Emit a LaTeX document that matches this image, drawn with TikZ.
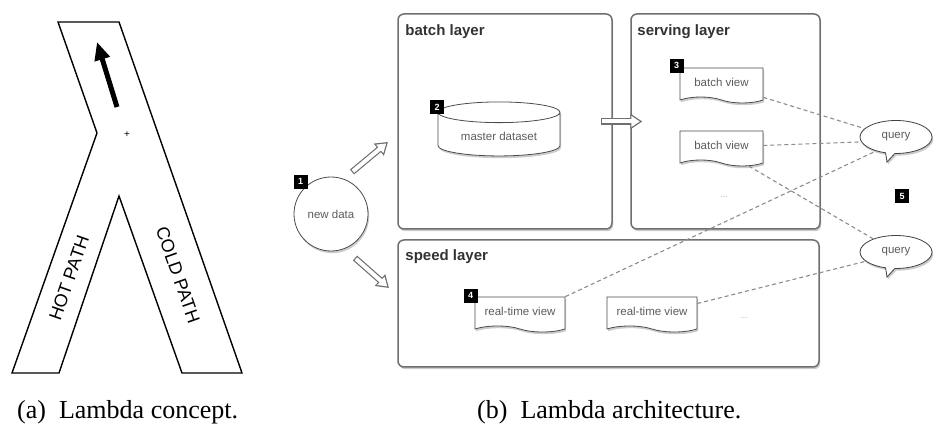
\documentclass[tikz,border=0pt]{standalone}
\usepackage{fontspec}
\setmainfont{Liberation Serif}
\setsansfont{Liberation Sans}
\usepackage{tikz}
\usepackage{xcolor}
\usetikzlibrary{positioning}
\usetikzlibrary{arrows.meta}
\usetikzlibrary{shadows}
\usetikzlibrary{shapes.geometric}
\usetikzlibrary{shapes.symbols}
\usetikzlibrary{shapes.callouts}
\definecolor{rim}{HTML}{6F6F6F}
\definecolor{ink}{HTML}{5C5C5C}
\tikzstyle{lift}=[drop shadow={shadow xshift=1.2pt, shadow yshift=-2.2pt, opacity=0.4}]
\tikzstyle{layer}=[draw=rim, line width=1.5pt, rounded corners=6pt, fill=white, lift]
\tikzstyle{title}=[anchor=west, inner sep=0pt, text=black!80, font=\sffamily\bfseries\fontsize{15}{18}\selectfont]
\tikzstyle{small}=[text=ink, font=\sffamily\fontsize{11.5}{14}\selectfont]
\tikzstyle{docview}=[small, tape, tape bend top=none, tape bend bottom=out and in, tape bend height=6pt, draw=black!70, line width=0.8pt, fill=white, minimum height=35pt, inner sep=0pt, lift]
\tikzstyle{dataset}=[small, cylinder, shape border rotate=90, aspect=0.25, draw=black!70, line width=0.8pt, fill=white, minimum width=122pt, minimum height=54pt, lift]
\tikzstyle{query}=[small, ellipse callout, draw=black!75, line width=0.8pt, fill=white, minimum width=72pt, minimum height=33pt, inner sep=0pt, lift]
\tikzstyle{badge}=[fill=black, text=white, minimum size=14pt, inner sep=0pt, font=\sffamily\bfseries\fontsize{9}{10}\selectfont]
\tikzstyle{etc}=[text=black!35, font=\sffamily\fontsize{8}{9}\selectfont]
\tikzstyle{link}=[draw=black!45, dash pattern=on 4pt off 3pt, line width=1.1pt]
\tikzstyle{hollowrim}=[draw=rim, line width=6.4pt, -{Triangle[length=12pt,width=15pt]}]
\tikzstyle{hollowcore}=[draw=white, line width=4pt, -{Triangle[length=8.5pt,width=10.5pt]}, shorten <=1.2pt, shorten >=2.3pt]
\tikzstyle{pathtext}=[font=\sffamily\fontsize{18}{20}\selectfont]
\tikzstyle{caption}=[anchor=base west, inner sep=0pt, font=\fontsize{26}{28}\selectfont]

\begin{document}
\begin{tikzpicture}[x=1pt, y=1pt, node distance=10pt]
    \useasboundingbox (0,0) rectangle (934,423);

    % (a) the lambda
    \draw[line width=1.4pt, line join=miter] (58,401) -- (119,401) -- (242,50) -- (182,50) -- (119,227) -- (59,50) -- (12,50) -- (97,290) -- cycle;
    \coordinate (flow0) at (117,316);
    \coordinate (flow1) at (97,381);
    \draw[line width=5pt, -{Triangle[length=18pt,width=15pt]}] (flow0) -- (flow1);
    \node[font=\sffamily\fontsize{10}{12}\selectfont] (plus) at (127,288) {+};
    \node[pathtext, rotate=70.7]  (hot)  at (69,145)  {HOT PATH};
    \node[pathtext, rotate=-70.7] (cold) at (178,148) {COLD PATH};

    % (b) the layers
    \node[layer, minimum width=214pt, minimum height=215pt] (batch)   at (505,301.5)   {};
    \node[layer, minimum width=189pt, minimum height=215pt] (serving) at (725.5,301.5) {};
    \node[layer, minimum width=421pt, minimum height=127pt] (speed)   at (608.5,119.5) {};
    \node[title] (batchT)   at ([xshift=8pt,yshift=-18pt]batch.north west)   {batch layer};
    \node[title] (servingT) at ([xshift=7pt,yshift=-18pt]serving.north west) {serving layer};
    \node[title] (speedT)   at ([xshift=8pt,yshift=-17pt]speed.north west)   {speed layer};

    \node[circle, draw=black!70, line width=0.8pt, fill=white, minimum size=74pt, small, lift] (newdata) at (331,209) {new data};
    \node[dataset] (mds) at (499,287) {master dataset};

    \node[docview, minimum width=83pt] (bv1) at (721.5,340.5) {batch view};
    \node[docview, minimum width=83pt] (bv2) at (721.5,277.5) {batch view};
    \node[etc] (bvdots) at (724,226) {...};
    \node[docview, minimum width=90pt] (rt1) at (520,111.5) {real-time view};
    \node[docview, minimum width=90pt] (rt2) at (652,111.5) {real-time view};
    \node[etc] (rtdots) at (744,105) {...};

    \coordinate (q1tip) at (887,261);
    \coordinate (q2tip) at (887,146);
    \node[query, callout absolute pointer={(q1tip)}] (q1) at (896,286) {query};
    \node[query, callout absolute pointer={(q2tip)}] (q2) at (896,171) {query};

    \draw[link] (bv1.south east) -- (q1.165);
    \draw[link] (bv2.east) -- (q1.188);
    \draw[link] (bv2.-37) -- (q2.150);
    \draw[link] (rt1.north east) -- (q1.215);
    \draw[link] (rt2.10) -- (q2.197);

    \coordinate (in0) at (352,251);
    \coordinate (in1) at (388,281);
    \coordinate (sp0) at (355,165);
    \coordinate (sp1) at (389,135);
    \coordinate (bs0) at ([xshift=-12pt]batch.east);
    \coordinate (bs1) at ([xshift=12pt]serving.west);
    \foreach \from/\to in {in0/in1, sp0/sp1, bs0/bs1} {
        \draw[hollowrim]  (\from) -- (\to);
        \draw[hollowcore] (\from) -- (\to);
    }

    \node[badge] (b1) at ([shift={(-4pt,6pt)}]newdata.135) {1};
    \node[badge] (b2) at ([shift={(-62pt,29pt)}]mds.center) {2};
    \node[badge] (b3) at ([shift={(-3pt,2pt)}]bv1.north west) {3};
    \node[badge] (b4) at ([shift={(-4pt,1pt)}]rt1.north west) {4};
    \node[badge] (b5) at (902,227) {5};

    \node[caption] (capA) at (17,4.5)  {(a)\hspace{13pt}Lambda concept.};
    \node[caption] (capB) at (477,4.5) {(b)\hspace{13pt}Lambda architecture.};
\end{tikzpicture}
\end{document}
